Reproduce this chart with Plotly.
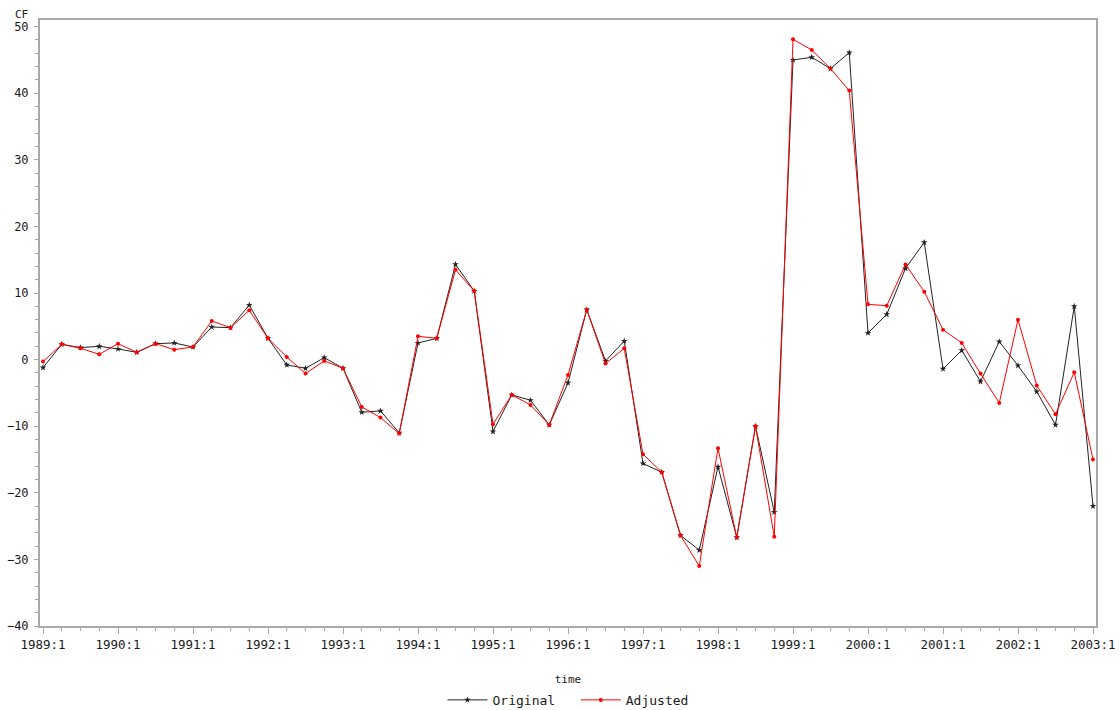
import plotly.graph_objects as go

years = list(range(1989, 2004))
tick_labels = [f"{y}:1" for y in years]
quarters = [f"{y}:{q}" for y in range(1989, 2003) for q in range(1, 5)] + ["2003:1"]

original = [-1.2, 2.3, 1.8, 2.0, 1.6, 1.1, 2.4, 2.5, 1.9, 4.9, 4.8, 8.2, 3.2, -0.8,
            -1.3, 0.3, -1.3, -7.9, -7.7, -11.0, 2.5, 3.2, 14.3, 10.3, -10.8, -5.3,
            -6.1, -9.8, -3.5, 7.5, -0.2, 2.8, -15.6, -16.9, -26.4, -28.6, -16.1,
            -26.7, -10.0, -22.9, 45.0, 45.4, 43.7, 46.1, 4.0, 6.8, 13.7, 17.6, -1.4,
            1.4, -3.3, 2.7, -0.9, -4.8, -9.8, 8.0, -22.0]
adjusted = [-0.3, 2.3, 1.7, 0.8, 2.4, 1.1, 2.4, 1.5, 1.9, 5.8, 4.8, 7.4, 3.2, 0.4,
            -2.1, -0.2, -1.3, -7.1, -8.7, -11.1, 3.5, 3.2, 13.5, 10.3, -9.7, -5.3,
            -6.8, -9.8, -2.3, 7.5, -0.6, 1.7, -14.2, -16.9, -26.4, -31.0, -13.3,
            -26.7, -10.0, -26.6, 48.1, 46.5, 43.7, 40.4, 8.3, 8.1, 14.3, 10.2, 4.5,
            2.5, -2.1, -6.5, 6.0, -3.9, -8.2, -1.9, -15.0]

def qnum(s):
    y, q = s.split(":")
    return int(y) + (int(q) - 1) / 4

x = [qnum(s) for s in quarters]

FONT = "DejaVu Sans Mono"
AX = "#a8a8a8"
TXT = "#1a1a1a"

fig = go.Figure()
fig.add_trace(go.Scatter(
    x=x, y=original, name="Original  ", mode="lines+markers",
    line=dict(color="#222222", width=1),
    marker=dict(symbol="star", size=5, color="#222222"),
))
fig.add_trace(go.Scatter(
    x=x, y=adjusted, name="Adjusted", mode="lines+markers",
    line=dict(color="#ff0000", width=1),
    marker=dict(symbol="circle", size=4, color="#ff0000"),
))

fig.update_layout(
    width=1120, height=710,
    margin=dict(l=40, r=24, t=20, b=84, autoexpand=False),
    paper_bgcolor="white", plot_bgcolor="white",
    font=dict(family=FONT, size=12, color=TXT),
    showlegend=True,
    legend=dict(orientation="h", x=0.5, xanchor="center", y=-0.122, yanchor="middle",
                font=dict(family=FONT, size=13, color=TXT),
                itemwidth=40, tracegroupgap=0, bgcolor="rgba(0,0,0,0)"),
    annotations=[dict(text="CF", x=0, y=1, xref="paper", yref="paper",
                      xanchor="center", yanchor="middle", xshift=-19, yshift=6,
                      showarrow=False, font=dict(family=FONT, size=11, color=TXT))],
)

fig.update_xaxes(
    range=[1988.96, 2003.04], automargin=False,
    tickvals=years, ticktext=tick_labels,
    ticks="outside", ticklen=6, tickwidth=1, tickcolor=AX,
    minor=dict(dtick=0.25, ticks="outside", ticklen=3, tickcolor=AX, showgrid=False),
    showline=True, linecolor=AX, linewidth=2, mirror=True,
    showgrid=False, zeroline=False,
    tickfont=dict(family=FONT, size=12.5, color=TXT),
    title=dict(text="time", standoff=24, font=dict(family=FONT, size=11, color=TXT)),
)
fig.update_yaxes(
    range=[-40, 51.0], automargin=False,
    tickvals=list(range(-40, 51, 10)),
    ticks="outside", ticklen=4, tickwidth=1, tickcolor=AX,
    ticklabelstandoff=3,
    minor=dict(dtick=2, ticks="outside", ticklen=3, tickcolor=AX, showgrid=False),
    showline=True, linecolor=AX, linewidth=2, mirror=True,
    showgrid=False, zeroline=False,
    tickfont=dict(family=FONT, size=12, color=TXT),
)

fig.write_html("out.html",
               config={"displayModeBar": False},
               post_script="document.body.style.margin='0';document.body.style.overflow='hidden';")
